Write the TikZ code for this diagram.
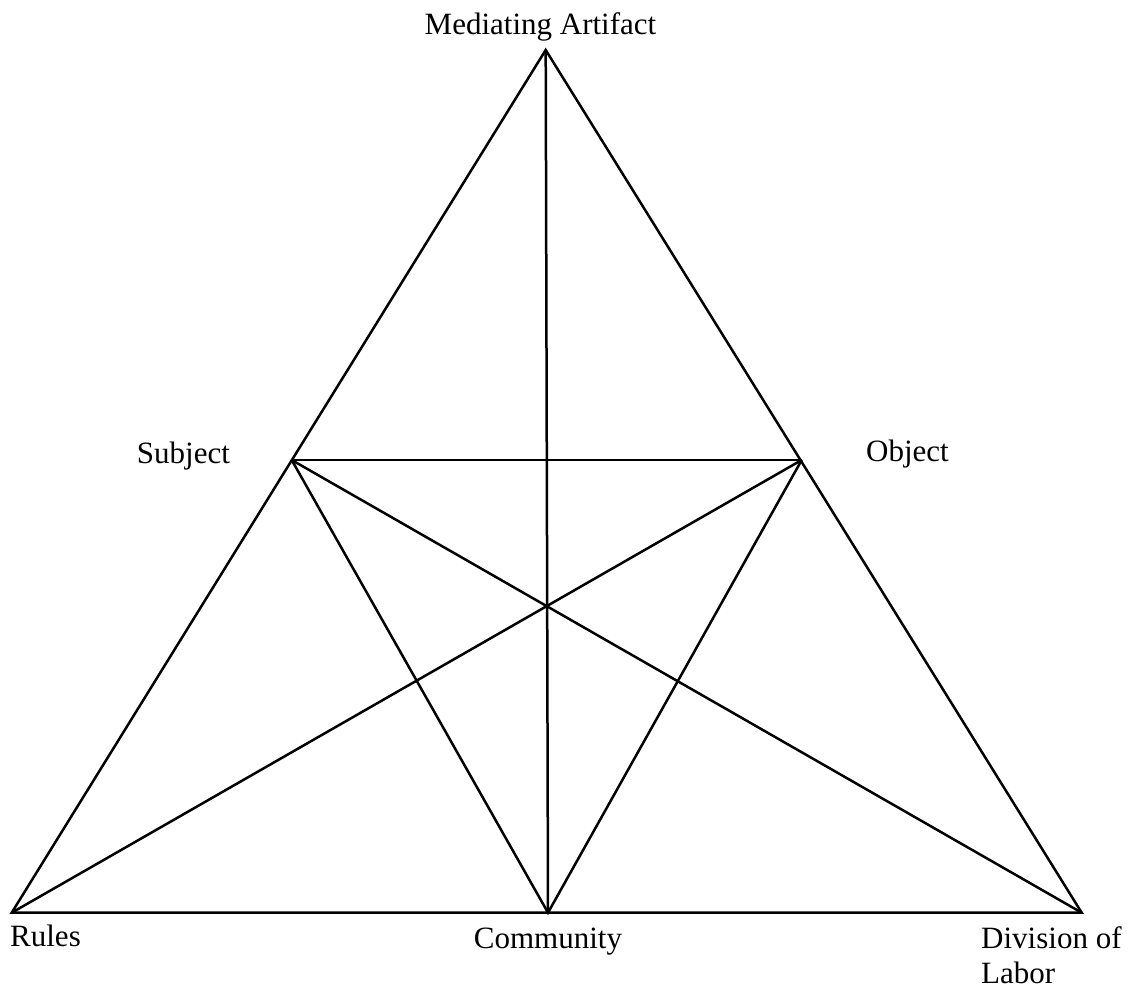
\documentclass[tikz,border=0pt]{standalone}
\usepackage{fontspec}
\setmainfont{Liberation Serif}
\begin{document}
\begin{tikzpicture}[x=1pt,y=-1pt,
  edge/.style={line width=2.5pt, line join=miter, line cap=butt},
  lbl/.style={inner sep=0pt, font=\fontsize{31}{39}\selectfont}]
\useasboundingbox (0,0) rectangle (1133,990);

% vertices of the activity triangle
\coordinate (art) at (545.7,50);
\coordinate (subj) at (291.7,460);
\coordinate (obj) at (801.7,460);
\coordinate (rules) at (11.7,912.7);
\coordinate (comm) at (548,912.7);
\coordinate (div) at (1081.7,912.7);

% outer triangle
\draw[edge] (rules) -- (art) -- (div) -- cycle;
% inner connections
\draw[edge] (subj) -- (obj);
\draw[edge] (art) -- (comm);
\draw[edge] (subj) -- (comm) -- (obj);
\draw[edge] (subj) -- (div);
\draw[edge] (rules) -- (obj);

% labels
\node[lbl, anchor=base] (lart) at (540.5,34.3) {Mediating Artifact};
\node[lbl, anchor=base west] (lsubj) at (136.7,463) {Subject};
\node[lbl, anchor=base west] (lobj) at (866,461.7) {Object};
\node[lbl, anchor=base west] (lrules) at (10,946.7) {Rules};
\node[lbl, anchor=base] (lcomm) at (548,948.3) {Community};
\node[lbl, anchor=base west] (ldiv) at (981,948) {Division of};
\node[lbl, anchor=base west] (llab) at (981,983) {Labor};
\end{tikzpicture}
\end{document}
